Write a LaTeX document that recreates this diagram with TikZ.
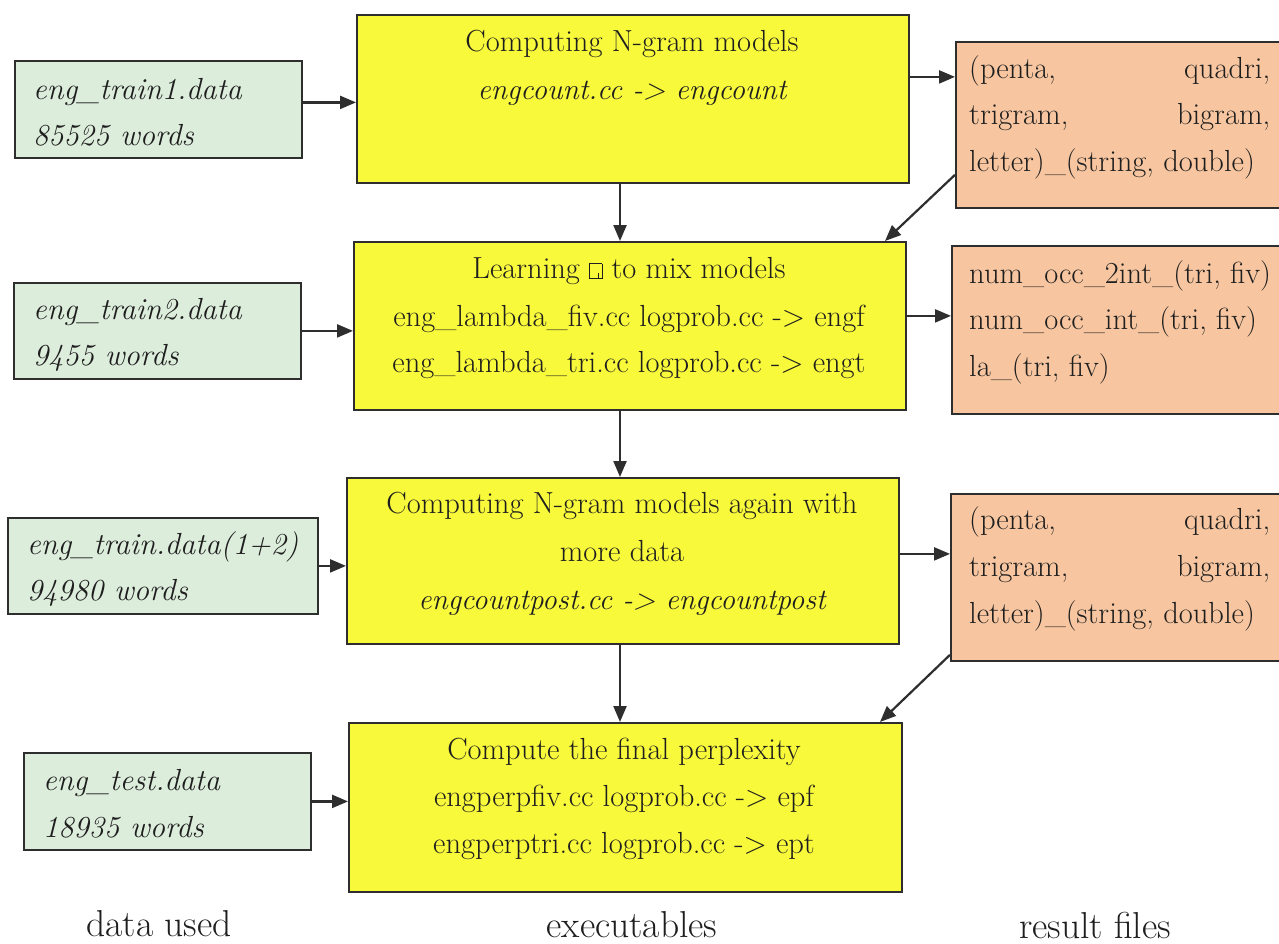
\documentclass[tikz,border=0pt]{standalone}
\usetikzlibrary{arrows.meta}

\definecolor{datafill}{HTML}{DDEDDC}
\definecolor{exefill}{HTML}{F9F93C}
\definecolor{resfill}{HTML}{F7C6A0}
\definecolor{ink}{HTML}{2E2E2E}
\definecolor{textink}{HTML}{1E1E1E}

% empty "missing glyph" box standing where the lambda was meant to be
\newcommand\missingglyph{{\fboxsep=0pt\fboxrule=0.7pt\fbox{\rule{0pt}{14pt}\hspace{8.5pt}\rule{0.7pt}{5pt}\hspace{2.5pt}}}}

\begin{document}
\begin{tikzpicture}[x=1pt,y=-1pt,
  box/.style={draw=ink, line width=1.8pt, anchor=north west, inner sep=0pt},
  databox/.style={box, fill=datafill},
  exebox/.style={box, fill=exefill},
  resbox/.style={box, fill=resfill},
  txt/.style={text=textink, inner sep=0pt, font=\fontsize{30.5}{36}\selectfont},
  itxt/.style={txt, font=\fontsize{29.5}{36}\selectfont\itshape},
  dtxt/.style={txt, anchor=mid west, font=\fontsize{30.5}{36}\selectfont\itshape},
  rtxt/.style={txt, anchor=mid west},
  captxt/.style={text=textink, inner sep=0pt, anchor=mid, font=\fontsize{37.5}{42}\selectfont},
  arr/.style={draw=ink, line width=2.2pt, -{Triangle[length=16pt,width=13pt]}},
]
\useasboundingbox (0,0) rectangle (1279,943);
\fill[white] (0,0) rectangle (1279,943);
\clip (0,0) rectangle (1279,943);

% data used
\node[databox, minimum width=287pt, minimum height=97pt] (g1) at (14,60) {};
\node[databox, minimum width=287pt, minimum height=96pt] (g2) at (13,282) {};
\node[databox, minimum width=310pt, minimum height=96pt] (g3) at (7,517) {};
\node[databox, minimum width=287pt, minimum height=97pt] (g4) at (23,752) {};

\node[dtxt] (g1a) at (33,97) {eng\_train1.data};
\node[dtxt] (g1b) at (33,143) {85525 words};
\node[dtxt] (g2a) at (33,317) {eng\_train2.data};
\node[dtxt] (g2b) at (33,363) {9455 words};
\node[dtxt] (g3a) at (27,552) {eng\_train.data(1+2)};
\node[dtxt] (g3b) at (27,598) {94980 words};
\node[dtxt] (g4a) at (43,788) {eng\_test.data};
\node[dtxt] (g4b) at (43,835) {18935 words};

% executables
\node[exebox, minimum width=552pt, minimum height=168pt] (y1) at (356,14) {};
\node[exebox, minimum width=552pt, minimum height=168pt] (y2) at (353,241) {};
\node[exebox, minimum width=552pt, minimum height=166pt] (y3) at (346,477) {};
\node[exebox, minimum width=553pt, minimum height=169pt] (y4) at (348,722) {};

\node[txt, anchor=mid] (y1a) at (632,49) {Computing N-gram models};
\node[itxt, anchor=mid] (y1b) at (632,97) {engcount.cc -> engcount};

\node[txt, anchor=mid] (y2a) at (629,276) {Learning \missingglyph\ to mix models};
\node[txt, anchor=mid] (y2b) at (629,324) {eng\_lambda\_fiv.cc logprob.cc -> engf};
\node[txt, anchor=mid] (y2c) at (629,370) {eng\_lambda\_tri.cc logprob.cc -> engt};

\node[txt, anchor=mid] (y3a) at (622,511) {Computing N-gram models again with};
\node[txt, anchor=mid] (y3b) at (622,559) {more data};
\node[itxt, anchor=mid] (y3c) at (622,607) {engcountpost.cc -> engcountpost};

\node[txt, anchor=mid] (y4a) at (624,757) {Compute the final perplexity};
\node[txt, anchor=mid] (y4b) at (624,804) {engperpfiv.cc logprob.cc -> epf};
\node[txt, anchor=mid] (y4c) at (624,851) {engperptri.cc logprob.cc -> ept};

% result files
\node[resbox, minimum width=360pt, minimum height=166pt] (o1) at (955,41) {};
\node[resbox, minimum width=360pt, minimum height=168pt] (o2) at (951,245) {};
\node[resbox, minimum width=360pt, minimum height=167pt] (o3) at (950,493) {};

\node[rtxt] (o1a) at (969,76) {\makebox[301pt]{(penta,\hfill quadri,}};
\node[rtxt] (o1b) at (969,122) {\makebox[301pt]{trigram,\hfill bigram,}};
\node[rtxt] (o1c) at (969,169) {letter)\_(string, double)};

\node[rtxt] (o2a) at (969,281) {num\_occ\_2int\_(tri, fiv)};
\node[rtxt] (o2b) at (969,327) {num\_occ\_int\_(tri, fiv)};
\node[rtxt] (o2c) at (969,374) {la\_(tri, fiv)};

\node[rtxt] (o3a) at (969,527) {\makebox[301pt]{(penta,\hfill quadri,}};
\node[rtxt] (o3b) at (969,574) {\makebox[301pt]{trigram,\hfill bigram,}};
\node[rtxt] (o3c) at (969,621) {letter)\_(string, double)};

% column captions
\node[captxt] (lab1) at (159,934) {data used};
\node[captxt] (lab2) at (632,935) {executables};
\node[captxt] (lab3) at (1095,936) {result files};

% connectors
\coordinate (spine) at (620,0);
\coordinate (d1) at (885,0);
\coordinate (d2) at (880,0);

\draw[arr] ([yshift=7pt]g1.east) -- ([yshift=7pt]g1.east -| y1.west);
\draw[arr] (g2.east) -- (g2.east -| y2.west);
\draw[arr] (g3.east) -- (g3.east -| y3.west);
\draw[arr] (g4.east) -- (g4.east -| y4.west);

\draw[arr] ([yshift=22pt]y1.east) -- ([yshift=22pt]y1.east -| o1.west);
\draw[arr] ([yshift=10pt]y2.east) -- ([yshift=10pt]y2.east -| o2.west);
\draw[arr] ([yshift=7pt]y3.east) -- ([yshift=7pt]y3.east -| o3.west);

\draw[arr] (y1.south -| spine) -- (y2.north -| spine);
\draw[arr] (y2.south -| spine) -- (y3.north -| spine);
\draw[arr] (y3.south -| spine) -- (y4.north -| spine);

\draw[arr] ([yshift=34pt]o1.south west) -- (y2.north -| d1);
\draw[arr] ([yshift=7pt]o3.south west) -- (y4.north -| d2);
\end{tikzpicture}
\end{document}
